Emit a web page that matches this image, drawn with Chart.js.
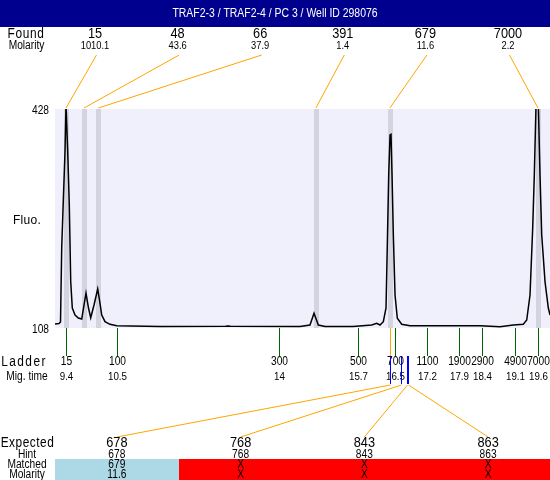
<!DOCTYPE html>
<html>
<head>
<meta charset="utf-8">
<script src="https://cdn.jsdelivr.net/npm/chart.js@4.4.1/dist/chart.umd.min.js"></script>
<style>
  html, body { margin: 0; padding: 0; background: #fff; }
</style>
</head>
<body>
<canvas id="chart" width="550" height="480"></canvas>
<script>
// ── Data ────────────────────────────────────────────────────
const titleText = 'TRAF2-3 / TRAF2-4 / PC 3 / Well ID 298076';

const foundSizes    = ['15', '48', '66', '391', '679', '7000'];
const foundMolarity = ['1010.1', '43.6', '37.9', '1.4', '11.6', '2.2'];
const foundTimes    = [9.40, 9.79, 10.10, 14.80, 16.40, 19.60];

const ladderSizes = ['15', '100', '300', '500', '700', '1100', '1900', '2900', '4900', '7000'];
const ladderTimes = [9.4, 10.5, 14, 15.7, 16.5, 17.2, 17.9, 18.4, 19.1, 19.6];

const expectedSizes   = ['678', '768', '843', '863'];
const expectedHint    = ['678', '768', '843', '863'];
const expectedTimes   = [16.40, 16.63, 16.76, 16.79];
const matchedSizes    = ['679', 'X', 'X', 'X'];
const matchedMolarity = ['11.6', 'X', 'X', 'X'];
const matchedTime     = 16.40;

const yTicks = [108, 428];

// electropherogram trace, migration time vs fluorescence
const traceTime = [9.162, 9.249, 9.281, 9.307, 9.342, 9.378, 9.400, 9.415, 9.437, 9.471,
  9.502, 9.536, 9.595, 9.666, 9.739, 9.789, 9.832, 9.886, 9.934, 10.005,
  10.085, 10.124, 10.172, 10.243, 10.351, 10.496, 11.432, 12.850, 12.900, 12.950,
  14.457, 14.673, 14.760, 14.853, 14.998, 15.603, 16.007, 16.115, 16.186, 16.258,
  16.316, 16.344, 16.374, 16.403, 16.424, 16.446, 16.474, 16.511, 16.560, 16.655,
  16.835, 18.347, 18.780, 19.067, 19.283, 19.357, 19.428, 19.486, 19.521, 19.558,
  19.608, 19.644, 19.681, 19.753, 19.824, 19.861];
const traceFluo = [113.8, 114.6, 116.8, 224.9, 295.0, 365.0, 434.0, 434.0, 365.0, 287.7,
  175.2, 137.2, 127.0, 122.6, 121.1, 141.6, 159.1, 137.2, 123.0, 141.6,
  165.0, 148.9, 127.0, 117.2, 113.4, 111.4, 110.2, 110.4, 111.0, 110.4,
  110.2, 112.4, 129.5, 112.4, 110.2, 110.2, 112.4, 114.9, 112.4, 117.2,
  137.2, 229.3, 331.5, 390.0, 391.0, 331.5, 243.9, 156.2, 122.2, 113.4,
  111.4, 111.4, 109.9, 112.4, 113.4, 119.7, 156.2, 254.1, 331.5, 434.0,
  434.0, 331.5, 243.9, 175.2, 137.2, 127.0];

// ── Styles ──────────────────────────────────────────────────
const FONT = "'Liberation Sans', Arial, sans-serif";
const NARROW = 0.85;   // the original uses a condensed face
const ORANGE = '#ffa500';
const GREEN  = '#006400';
const BLUE   = '#0000ff';

function text(ctx, str, x, y, size, opts = {}) {
  ctx.save();
  ctx.font = `${size}px ${FONT}`;
  ctx.fillStyle = opts.color || '#000';
  ctx.textAlign = opts.align || 'center';
  ctx.textBaseline = 'middle';
  if (opts.spacing) ctx.letterSpacing = opts.spacing + 'px';
  ctx.translate(x, y);
  ctx.scale(opts.sx || NARROW, 1);
  ctx.fillText(str, 0, 0);
  ctx.restore();
}

function line(ctx, x1, y1, x2, y2, color, w = 1) {
  ctx.save();
  ctx.strokeStyle = color;
  ctx.lineWidth = w;
  ctx.beginPath();
  ctx.moveTo(x1, y1);
  ctx.lineTo(x2, y2);
  ctx.stroke();
  ctx.restore();
}

// ── Overlay plugin: background, bands, header, ladder, table ─
const overlay = {
  id: 'overlay',
  beforeDatasetsDraw(chart) {
    const { ctx, chartArea: a, scales: { x } } = chart;
    ctx.save();
    ctx.fillStyle = '#f0f0fc';
    ctx.fillRect(a.left, a.top, a.right - a.left, a.bottom - a.top);
    // found peak bands
    ctx.fillStyle = '#d4d4e0';
    foundTimes.forEach(t => {
      const px = Math.round(x.getPixelForValue(t));
      ctx.fillRect(px - 2, a.top, 5, a.bottom - a.top);
    });
    ctx.restore();
  },
  afterDatasetsDraw(chart) {
    const { ctx, chartArea: a, scales: { x, y } } = chart;
    const W = chart.width, H = chart.height;

    // title bar
    ctx.save();
    ctx.fillStyle = '#00008f';
    ctx.fillRect(0, 0, W, 27);
    ctx.restore();
    text(ctx, titleText, W / 2, 14, 12, { color: '#fff', sx: 0.87 });

    // found row
    text(ctx, 'Found', 26, 34, 14, { spacing: 0.8 });
    text(ctx, 'Molarity', 26.5, 46, 12);
    foundSizes.forEach((s, i) => {
      const lx = 95 + i * 82.6;
      text(ctx, s, lx, 34, 15);
      text(ctx, foundMolarity[i], lx, 46, 11);
      line(ctx, lx + 1.5, 55, x.getPixelForValue(foundTimes[i]), a.top - 1, ORANGE);
    });

    // y labels
    yTicks.forEach(v => text(ctx, String(v), 49, y.getPixelForValue(v) + 2, 12, { align: 'right' }));
    text(ctx, 'Fluo.', 27, 221, 12, { sx: 1, spacing: 0.3 });

    // ladder ticks and labels
    text(ctx, 'Ladder', 24, 362, 14, { spacing: 1.7 });
    text(ctx, 'Mig. time', 27, 377, 12);
    ladderTimes.forEach((t, i) => {
      const px = Math.round(x.getPixelForValue(t)) + 0.5;
      line(ctx, px, a.bottom, px, a.bottom + 28, GREEN);
      text(ctx, ladderSizes[i], px, 362, 12);
      text(ctx, String(t), px, 377, 11.5);
    });

    // matched peak connector
    const mx = Math.round(x.getPixelForValue(matchedTime)) + 0.5;
    line(ctx, mx, a.bottom, mx, a.bottom + 30, ORANGE);

    // expected table
    const colW = (a.right - a.left) / expectedSizes.length;
    const rowTop = 459;
    expectedSizes.forEach((s, i) => {
      const x0 = Math.round(a.left + i * colW);
      const x1 = Math.round(a.left + (i + 1) * colW);
      ctx.save();
      ctx.fillStyle = matchedSizes[i] === 'X' ? '#ff0000' : '#add8e6';
      ctx.fillRect(x0, rowTop, x1 - x0, H - rowTop);
      ctx.restore();
    });
    expectedSizes.forEach((s, i) => {
      const cx = a.left + (i + 0.5) * colW;
      const ex = Math.round(x.getPixelForValue(expectedTimes[i])) + 0.5;
      line(ctx, ex, 356, ex, 384, BLUE);
      line(ctx, ex, 385, cx, 437, ORANGE);
      text(ctx, s, cx, 443, 15);
      text(ctx, expectedHint[i], cx, 455, 12);
      text(ctx, matchedSizes[i], cx, 465, 12);
      text(ctx, matchedMolarity[i], cx, 475, 12);
    });
    text(ctx, 'Expected', 27.5, 443, 14, { spacing: 0.6 });
    text(ctx, 'Hint', 27, 455, 12);
    text(ctx, 'Matched', 27, 465, 12);
    text(ctx, 'Molarity', 27, 475, 12);
  }
};

// ── Chart ───────────────────────────────────────────────────
new Chart(document.getElementById('chart').getContext('2d'), {
  type: 'line',
  data: {
    datasets: [{
      data: traceTime.map((t, i) => ({ x: t, y: traceFluo[i] })),
      borderColor: '#000',
      borderWidth: 1.5,
      pointRadius: 0,
      tension: 0,
      fill: false
    }]
  },
  options: {
    responsive: false,
    animation: false,
    layout: { padding: { left: 55, top: 109, right: 0, bottom: 152 } },
    plugins: { legend: { display: false }, tooltip: { enabled: false } },
    scales: {
      x: { type: 'linear', min: 9.162, max: 19.86, display: false },
      y: { min: 108, max: 428, display: false }
    }
  },
  plugins: [overlay]
});
</script>
</body>
</html>
